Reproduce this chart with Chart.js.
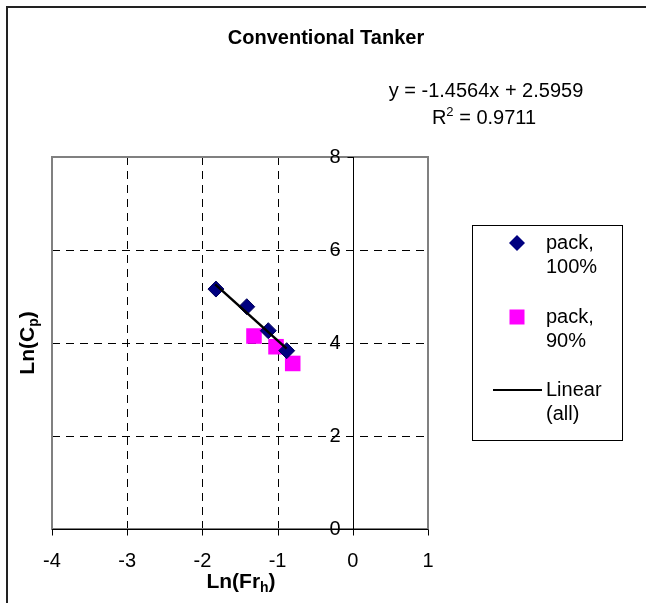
<!DOCTYPE html>
<html>
<head>
<meta charset="utf-8">
<script src="https://cdn.jsdelivr.net/npm/chart.js@4.4.0/dist/chart.umd.min.js"></script>
<style>
html,body{margin:0;padding:0;background:#fff;}
#wrap{width:646px;height:603px;position:relative;}
</style>
</head>
<body>
<div id="wrap"><canvas id="c" width="646" height="603"></canvas></div>
<script>
// ---- data ----
const pack100X = [-1.82, -1.41, -1.124, -0.879];
const pack100Y = [5.16, 4.78, 4.265, 3.835];
const pack90X = [-1.314, -1.021, -0.799];
const pack90Y = [4.15, 3.92, 3.56];
const trendSlope = -1.4564;
const trendIntercept = 2.5959;
const trendX = [-1.83, -0.88];
const xTicks = [-4, -3, -2, -1, 0, 1];
const yTicks = [0, 2, 4, 6, 8];
const titleText = "Conventional Tanker";
const eqText = "y = -1.4564x + 2.5959";
const r2Text = "0.9711";
const legendLabels = [["pack,", "100%"], ["pack,", "90%"], ["Linear", "(all)"]];

const FONT = '"Liberation Sans", Arial, sans-serif';

function pts(xs, ys){ return xs.map((x,i)=>({x:x, y:ys[i]})); }
const trendPts = trendX.map(x=>({x:x, y: trendSlope*x + trendIntercept}));

const drawPlugin = {
  id: 'excelLook',
  beforeDatasetsDraw(chart){
    const ctx = chart.ctx;
    const xs = chart.scales.x, ys = chart.scales.y;
    const a = chart.chartArea;
    ctx.save();
    // outer border
    ctx.strokeStyle = '#222';
    ctx.lineWidth = 2;
    ctx.beginPath();
    ctx.moveTo(646, 7); ctx.lineTo(7, 7); ctx.lineTo(7, 603);
    ctx.stroke();
    // gridlines
    ctx.strokeStyle = '#000';
    ctx.lineWidth = 1;
    ctx.setLineDash([8, 6]);
    xTicks.forEach(v=>{
      if (v === 0 || v === xTicks[0] || v === xTicks[xTicks.length-1]) return;
      const px = Math.round(xs.getPixelForValue(v)) + 0.5;
      ctx.beginPath(); ctx.moveTo(px, a.top); ctx.lineTo(px, a.bottom); ctx.stroke();
    });
    yTicks.forEach(v=>{
      if (v === yTicks[0] || v === yTicks[yTicks.length-1]) return;
      const py = Math.round(ys.getPixelForValue(v)) + 0.5;
      ctx.beginPath(); ctx.moveTo(a.left, py); ctx.lineTo(a.right, py); ctx.stroke();
    });
    ctx.setLineDash([]);
    // plot border (gray)
    ctx.strokeStyle = '#808080';
    ctx.lineWidth = 2;
    ctx.strokeRect(a.left, a.top, a.right - a.left, a.bottom - a.top);
    // axes
    ctx.strokeStyle = '#000';
    ctx.lineWidth = 1;
    const x0 = Math.round(xs.getPixelForValue(0)) + 0.5;
    const y0 = Math.round(ys.getPixelForValue(0)) + 0.5;
    ctx.beginPath(); ctx.moveTo(x0, a.top); ctx.lineTo(x0, a.bottom); ctx.stroke();
    ctx.beginPath(); ctx.moveTo(a.left, y0); ctx.lineTo(a.right, y0); ctx.stroke();
    // tick marks
    xTicks.forEach(v=>{
      const px = Math.round(xs.getPixelForValue(v)) + 0.5;
      ctx.beginPath(); ctx.moveTo(px, y0); ctx.lineTo(px, y0 + 6); ctx.stroke();
    });
    yTicks.forEach(v=>{
      const py = Math.round(ys.getPixelForValue(v)) + 0.5;
      ctx.beginPath(); ctx.moveTo(x0 - 6, py); ctx.lineTo(x0, py); ctx.stroke();
    });
    // tick labels
    ctx.fillStyle = '#000';
    ctx.font = '20px ' + FONT;
    ctx.textAlign = 'center'; ctx.textBaseline = 'middle';
    xTicks.forEach(v=>{
      ctx.fillText(String(v), xs.getPixelForValue(v), y0 + 32);
    });
    ctx.textAlign = 'right';
    yTicks.forEach(v=>{
      ctx.fillText(String(v), x0 - 13, ys.getPixelForValue(v));
    });
    ctx.restore();
  },
  afterDraw(chart){
    const ctx = chart.ctx;
    const a = chart.chartArea;
    ctx.save();
    ctx.fillStyle = '#000';
    // title
    ctx.font = 'bold 20px ' + FONT;
    ctx.textAlign = 'center'; ctx.textBaseline = 'middle';
    ctx.fillText(titleText, 326, 38);
    // equation
    ctx.font = '20px ' + FONT;
    ctx.fillText(eqText, 486, 91);
    // R^2
    const big = '20px ' + FONT, small = '13px ' + FONT;
    ctx.textAlign = 'left'; ctx.textBaseline = 'alphabetic';
    ctx.font = big; const wR = ctx.measureText('R').width;
    ctx.font = small; const w2 = ctx.measureText('2').width;
    ctx.font = big; const wRest = ctx.measureText(' = ' + r2Text).width;
    let sx = 484 - (wR + w2 + wRest)/2;
    const base = 124;
    ctx.font = big; ctx.fillText('R', sx, base); sx += wR;
    ctx.font = small; ctx.fillText('2', sx, base - 8); sx += w2;
    ctx.font = big; ctx.fillText(' = ' + r2Text, sx, base);

    // axis titles with subscripts
    function subTitle(mainA, sub, mainB, cx, baseY){
      const bf = 'bold 21px ' + FONT, sf = 'bold 14px ' + FONT;
      ctx.font = bf; const wa = ctx.measureText(mainA).width; const wb = ctx.measureText(mainB).width;
      ctx.font = sf; const ws = ctx.measureText(sub).width;
      let x = cx - (wa + ws + wb)/2;
      ctx.textAlign = 'left'; ctx.textBaseline = 'alphabetic';
      ctx.font = bf; ctx.fillText(mainA, x, baseY); x += wa;
      ctx.font = sf; ctx.fillText(sub, x, baseY + 4); x += ws;
      ctx.font = bf; ctx.fillText(mainB, x, baseY);
    }
    subTitle('Ln(Fr', 'h', ')', (a.left + a.right)/2 + 1, 588);
    ctx.save();
    ctx.translate(34, (a.top + a.bottom)/2);
    ctx.rotate(-Math.PI/2);
    subTitle('Ln(C', 'p', ')', 0, 0);
    ctx.restore();

    // legend box
    ctx.strokeStyle = '#000'; ctx.lineWidth = 1;
    ctx.strokeRect(472.5, 225.5, 150, 215);
    ctx.font = '20px ' + FONT;
    ctx.textAlign = 'left'; ctx.textBaseline = 'middle';
    const rows = [243, 317, 390];
    // diamond
    ctx.fillStyle = '#000080';
    ctx.beginPath();
    ctx.moveTo(517, rows[0] - 8); ctx.lineTo(525, rows[0]); ctx.lineTo(517, rows[0] + 8); ctx.lineTo(509, rows[0]);
    ctx.closePath(); ctx.fill();
    // square
    ctx.fillStyle = '#FF00FF';
    ctx.fillRect(509.5, rows[1] - 7.5, 15, 15);
    // line
    ctx.strokeStyle = '#000'; ctx.lineWidth = 2;
    ctx.beginPath(); ctx.moveTo(493, rows[2]); ctx.lineTo(542, rows[2]); ctx.stroke();
    ctx.fillStyle = '#000';
    legendLabels.forEach((lab, i)=>{
      ctx.fillText(lab[0], 546, rows[i]);
      ctx.fillText(lab[1], 546, rows[i] + 24);
    });
    ctx.restore();
  }
};

new Chart(document.getElementById('c'), {
  type: 'scatter',
  data: {
    datasets: [
      {
        type: 'line',
        label: 'Linear (all)',
        data: trendPts,
        borderColor: '#000',
        borderWidth: 2.5,
        pointRadius: 0,
        fill: false,
        tension: 0
      },
      {
        label: 'pack, 100%',
        data: pts(pack100X, pack100Y),
        pointStyle: 'rectRot',
        pointRadius: 8,
        backgroundColor: '#000080',
        borderColor: '#00005a',
        borderWidth: 1
      },
      {
        label: 'pack, 90%',
        data: pts(pack90X, pack90Y),
        pointStyle: 'rect',
        pointRadius: 11,
        backgroundColor: '#FF00FF',
        borderColor: '#FF00FF',
        borderWidth: 0
      }
    ]
  },
  options: {
    responsive: false,
    animation: false,
    events: [],
    layout: { padding: { left: 52, top: 157, right: 218, bottom: 74 } },
    scales: {
      x: { type: 'linear', min: -4, max: 1, display: false },
      y: { type: 'linear', min: 0, max: 8, display: false }
    },
    plugins: {
      legend: { display: false },
      tooltip: { enabled: false },
      title: { display: false }
    }
  },
  plugins: [drawPlugin]
});
</script>
</body>
</html>
